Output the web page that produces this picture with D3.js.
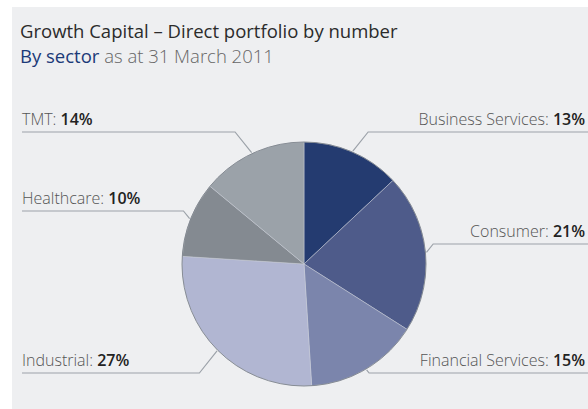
<!DOCTYPE html>
<html>
<head>
<meta charset="utf-8">
<script src="https://cdn.jsdelivr.net/npm/d3@7"></script>
<style>
  body { margin: 0; background: #fff; }
  text { font-family: "Open Sans", sans-serif; }
</style>
</head>
<body>
<div id="chart"></div>
<script>
const width = 588;
const height = 409;

// sectors, clockwise from 12 o'clock
const sectors = ['Business Services', 'Consumer', 'Financial Services', 'Industrial', 'Healthcare', 'TMT'];
const shares = [13, 21, 15, 27, 10, 14];
const colours = ['#243b70', '#4e5b8a', '#7b85ac', '#b1b6d2', '#848a91', '#9ba2a9'];

// which side each label sits on and the y of its rule
const labelSide = ['right', 'right', 'right', 'left', 'left', 'left'];
const labelRow = [132, 244, 373, 373, 211, 132];

const cx = 304, cy = 264, r = 122;

const svg = d3.select('#chart').append('svg')
  .attr('width', width)
  .attr('height', height);

svg.append('rect')
  .attr('x', 12).attr('y', 7)
  .attr('width', width - 12).attr('height', height - 7)
  .attr('fill', '#eeeff1');

svg.append('text')
  .attr('x', 20).attr('y', 38)
  .attr('font-size', 18.5)
  .attr('fill', '#2b2b2b')
  .text('Growth Capital \u2013 Direct portfolio by number');

const sub = svg.append('text')
  .attr('x', 20).attr('y', 63)
  .attr('font-size', 18.5);
sub.append('tspan').attr('fill', '#1b3a78').text('By sector');
sub.append('tspan').attr('fill', '#666').attr('font-weight', 300).text(' as at 31 March 2011');

const data = sectors.map((s, i) => ({ name: s, value: shares[i], colour: colours[i], side: labelSide[i], row: labelRow[i] }));

const pie = d3.pie().value(d => d.value).sort(null);
const arc = d3.arc().innerRadius(0).outerRadius(r);
const arcs = pie(data);

const g = svg.append('g').attr('transform', `translate(${cx},${cy})`);

g.selectAll('path')
  .data(arcs)
  .join('path')
  .attr('d', arc)
  .attr('fill', d => d.data.colour)
  .attr('stroke', '#c9cdd6')
  .attr('stroke-width', 0.5);

g.append('circle')
  .attr('r', r)
  .attr('fill', 'none')
  .attr('stroke', '#767c84')
  .attr('stroke-width', 0.8);

// leader lines: from the rim to a horizontal rule under the label
const rim = d3.arc().innerRadius(r + 1).outerRadius(r + 1);

arcs.forEach(d => {
  const mid = (d.startAngle + d.endAngle) / 2;
  const p = rim.centroid({ startAngle: mid, endAngle: mid });
  const px = cx + p[0], py = cy + p[1];
  const dy = d.data.row - py;
  const kx = d.data.side === 'right' ? 1 : -1;
  const bx = px + kx * Math.abs(dy) * 0.8;
  const endX = d.data.side === 'right' ? width : 22;
  svg.append('polyline')
    .attr('points', `${px},${py} ${bx},${d.data.row} ${endX},${d.data.row}`)
    .attr('fill', 'none')
    .attr('stroke', '#9ca2a9')
    .attr('stroke-width', 1.2);

  const t = svg.append('text')
    .attr('x', d.data.side === 'right' ? 585 : 22)
    .attr('y', d.data.row - 7)
    .attr('text-anchor', d.data.side === 'right' ? 'end' : 'start')
    .attr('font-size', 16);
  t.append('tspan').attr('fill', '#555').attr('font-weight', 300).text(d.data.name + ': ');
  t.append('tspan').attr('fill', '#222').attr('font-weight', 600).text(d.data.value + '%');
});
</script>
</body>
</html>
